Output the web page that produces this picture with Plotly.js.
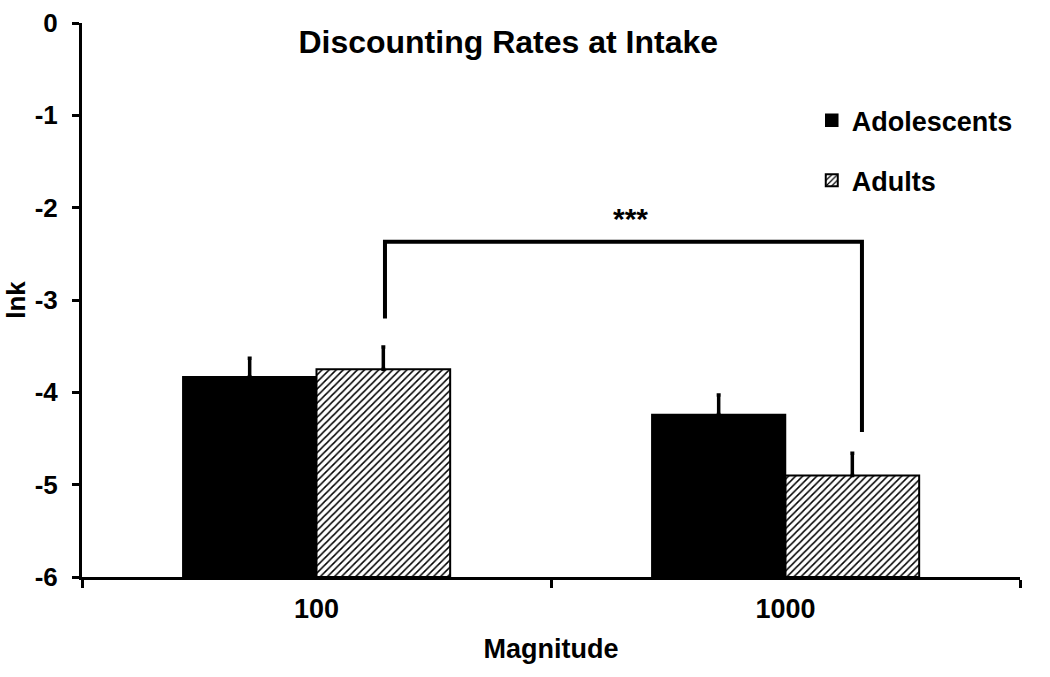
<!DOCTYPE html>
<html>
<head>
<meta charset="utf-8">
<script src="https://cdn.plot.ly/plotly-3.0.1.min.js"></script>
<style>html,body{margin:0;padding:0;background:#fff;}#chart{width:1050px;height:677px;}</style>
</head>
<body>
<div id="chart"></div>
<script>
const categories = ['100', '1000'];
const adolescents = [-3.83, -4.24];
const adolescentsErr = [0.20, 0.21];
const adults = [-3.75, -4.90];
const adultsErr = [0.24, 0.24];
const baseline = -6;
const yTicks = [0, -1, -2, -3, -4, -5, -6];

const FONT = 'Liberation Sans, Arial, sans-serif';

function barTrace(name, vals, errs, marker) {
  return {
    type: 'bar', name: name, x: categories,
    y: vals.map(v => v - baseline), base: baseline,
    marker: marker,
    error_y: {type: 'data', symmetric: false, array: errs, arrayminus: errs.map(() => 0),
              color: '#000', thickness: 3.5, width: 2},
    legendgroup: name
  };
}

const traces = [
  barTrace('Adolescents', adolescents, adolescentsErr, {color: '#000', line: {color: '#000', width: 1.5}}),
  barTrace('Adults', adults, adultsErr, {color: '#fff', line: {color: '#000', width: 2},
    pattern: {shape: '/', size: 5, solidity: 0.3, fgcolor: '#000', bgcolor: '#fff'}})
];

const layout = {
  width: 1050, height: 677,
  margin: {l: 82, r: 30, t: 23, b: 100},
  paper_bgcolor: '#fff', plot_bgcolor: '#fff',
  font: {family: FONT, color: '#000', size: 26, weight: 'bold'},
  title: {text: 'Discounting Rates at Intake', x: 0.484, xanchor: 'center', y: 0.938, yanchor: 'middle',
          font: {family: FONT, size: 32, weight: 'bold', color: '#000'}},
  barmode: 'group', bargap: 0.43, bargroupgap: 0,
  showlegend: true,
  legend: {x: 0.778, y: 0.868, xanchor: 'left', yanchor: 'top', traceorder: 'grouped', tracegroupgap: 22,
           font: {family: FONT, size: 27, weight: 'bold', color: '#000'}, itemwidth: 30, bgcolor: 'rgba(0,0,0,0)'},
  xaxis: {
    type: 'category', showline: true, linecolor: '#000', linewidth: 3,
    ticks: 'outside', tickson: 'boundaries', ticklen: 8, tickwidth: 3, tickcolor: '#000',
    showgrid: false, zeroline: false, ticklabelstandoff: 6,
    tickfont: {family: FONT, size: 27, weight: 'bold'},
    title: {text: 'Magnitude', font: {family: FONT, size: 27, weight: 'bold'}, standoff: 16}
  },
  yaxis: {
    range: [-6, 0], tickvals: yTicks, ticktext: yTicks.map(String),
    showline: true, linecolor: '#000', linewidth: 3,
    ticks: 'outside', ticklen: 7, tickwidth: 3, tickcolor: '#000',
    showgrid: false, zeroline: false, ticklabelstandoff: 9,
    tickfont: {family: FONT, size: 26, weight: 'bold'},
    title: {text: 'lnk', font: {family: FONT, size: 26, weight: 'bold'}, standoff: 2}
  },
  shapes: [
    {type: 'path', xref: 'x', yref: 'y', path: 'M 0.146,-3.20 L 0.146,-2.37 L 1.163,-2.37 L 1.163,-4.43',
     line: {color: '#000', width: 4}}
  ],
  annotations: [
    {text: '***', x: 0.67, y: -2.12, xref: 'x', yref: 'y', showarrow: false,
     font: {family: FONT, size: 30, weight: 'bold', color: '#000'}}
  ]
};

Plotly.newPlot('chart', traces, layout, {displayModeBar: false, staticPlot: true});
</script>
</body>
</html>
